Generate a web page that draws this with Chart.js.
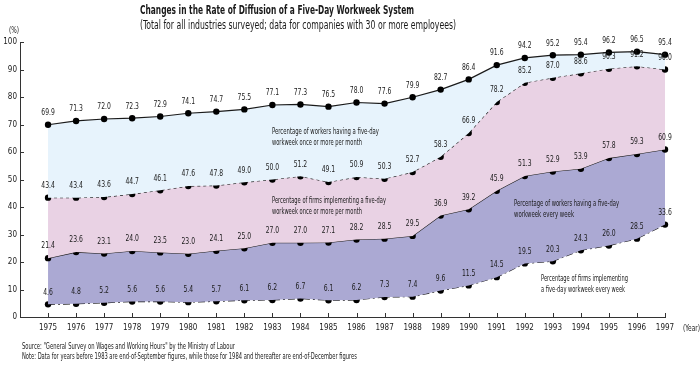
<!DOCTYPE html>
<html>
<head>
<meta charset="utf-8">
<script src="https://cdn.jsdelivr.net/npm/chart.js@4.4.1/dist/chart.umd.min.js"></script>
<style>
  body { margin: 0; background: #ffffff; }
  #wrap { width: 700px; height: 370px; position: relative; }
</style>
</head>
<body>
<div id="wrap"><canvas id="diffusionChart"></canvas></div>
<script>
// Data
const years = [1975, 1976, 1977, 1978, 1979, 1980, 1981, 1982, 1983, 1984, 1985, 1986,
               1987, 1988, 1989, 1990, 1991, 1992, 1993, 1994, 1995, 1996, 1997];

const workersMonthly = [69.9, 71.3, 72.0, 72.3, 72.9, 74.1, 74.7, 75.5, 77.1, 77.3, 76.5, 78.0,
                        77.6, 79.9, 82.7, 86.4, 91.6, 94.2, 95.2, 95.4, 96.2, 96.5, 95.4];
const firmsMonthly = [43.4, 43.4, 43.6, 44.7, 46.1, 47.6, 47.8, 49.0, 50.0, 51.2, 49.1, 50.9,
                      50.3, 52.7, 58.3, 66.9, 78.2, 85.2, 87.0, 88.6, 90.3, 91.2, 90.0];
const workersWeekly = [21.4, 23.6, 23.1, 24.0, 23.5, 23.0, 24.1, 25.0, 27.0, 27.0, 27.1, 28.2,
                       28.5, 29.5, 36.9, 39.2, 45.9, 51.3, 52.9, 53.9, 57.8, 59.3, 60.9];
const firmsWeekly = [4.6, 4.8, 5.2, 5.6, 5.6, 5.4, 5.7, 6.1, 6.2, 6.7, 6.1, 6.2,
                     7.3, 7.4, 9.6, 11.5, 14.5, 19.5, 20.3, 24.3, 26.0, 28.5, 33.6];

const yTicks = [0, 10, 20, 30, 40, 50, 60, 70, 80, 90, 100];

const seriesNotes = [
    ['Percentage of workers having a five-day', 'workweek once or more per month'],
    ['Percentage of firms implementing a five-day', 'workweek once or more per month'],
    ['Percentage of workers having a five-day', 'workweek every week'],
    ['Percentage of firms implementing', 'a five-day workweek every week']
];

const FONT = '"Liberation Sans Narrow", "DejaVu Sans Condensed", "Arial Narrow", sans-serif';
const INK = '#1a1a1a';

function toPoints(arr) {
    return arr.map((v, i) => ({ x: years[i], y: v }));
}

// draw text squeezed horizontally (the original uses a very condensed face)
function narrowText(ctx, text, x, y, squeeze) {
    const w = ctx.measureText(text).width;
    ctx.fillText(text, x, y, w * squeeze);
}

// value labels over every point
const valueLabels = {
    id: 'valueLabels',
    afterDatasetsDraw(chart) {
        const ctx = chart.ctx;
        ctx.save();
        ctx.font = '9px ' + FONT;
        ctx.fillStyle = INK;
        ctx.textAlign = 'center';
        ctx.textBaseline = 'middle';
        chart.data.datasets.forEach((ds, di) => {
            const meta = chart.getDatasetMeta(di);
            meta.data.forEach((pt, i) => {
                const txt = ds.data[i].y.toFixed(1);
                narrowText(ctx, txt, pt.x, pt.y - 12, 0.75);
            });
        });
        ctx.restore();
    }
};

// inward tick marks, titles, notes, source
const decorations = {
    id: 'decorations',
    afterDraw(chart) {
        const ctx = chart.ctx;
        const xs = chart.scales.x;
        const ys = chart.scales.y;
        const area = chart.chartArea;

        ctx.save();
        ctx.strokeStyle = '#333';
        ctx.lineWidth = 1;
        ctx.beginPath();
        yTicks.forEach(v => {
            const py = Math.round(ys.getPixelForValue(v)) + 0.5;
            ctx.moveTo(area.left, py);
            ctx.lineTo(area.left + 4, py);
        });
        years.forEach(yr => {
            const px = Math.round(xs.getPixelForValue(yr)) + 0.5;
            ctx.moveTo(px, area.bottom);
            ctx.lineTo(px, area.bottom - 4);
        });
        ctx.stroke();

        ctx.fillStyle = INK;
        ctx.textBaseline = 'middle';
        ctx.textAlign = 'left';

        ctx.font = 'bold 13px ' + FONT;
        ctx.fillText('Changes in the Rate of Diffusion of a Five-Day Workweek System', 140, 11, 274);
        ctx.font = '12px ' + FONT;
        ctx.fillText('(Total for all industries surveyed; data for companies with 30 or more employees)', 140, 26, 316);

        ctx.font = '8px ' + FONT;
        ctx.fillText('(%)', 9, 31, 10);
        ctx.fillText('(Year)', 683, 329, 17);

        ctx.font = '9px ' + FONT;
        const notePos = [[272, 132], [272, 201], [514, 204], [541, 279]];
        const noteW = [[107, 90], [114, 90], [105, 60], [87, 84]];
        seriesNotes.forEach((lines, i) => {
            lines.forEach((ln, j) => {
                ctx.fillText(ln, notePos[i][0], notePos[i][1] + j * 11, noteW[i][j]);
            });
        });

        ctx.font = '8.5px ' + FONT;
        ctx.fillText('Source: "General Survey on Wages and Working Hours" by the Ministry of Labour', 22, 347, 213);
        ctx.fillText('Note: Data for years before 1983 are end-of-September figures, while those for 1984 and thereafter are end-of-December figures', 22, 357, 335);
        ctx.restore();
    }
};

function lineSet(label, arr, dash, fill, bg) {
    return {
        label: label,
        data: toPoints(arr),
        borderColor: INK,
        borderWidth: 1.2,
        borderDash: dash,
        fill: fill,
        backgroundColor: bg,
        pointRadius: 3.2,
        pointBackgroundColor: '#000',
        pointBorderWidth: 0,
        tension: 0,
        clip: false
    };
}

const ctx = document.getElementById('diffusionChart').getContext('2d');
new Chart(ctx, {
    type: 'line',
    data: {
        datasets: [
            lineSet('workersMonthly', workersMonthly, [], '+1', '#e7f3fc'),
            lineSet('firmsMonthly', firmsMonthly, [3, 3], '+1', '#e9d2e4'),
            lineSet('workersWeekly', workersWeekly, [], '+1', '#aba9d3'),
            lineSet('firmsWeekly', firmsWeekly, [7, 3, 2, 3], false, 'transparent')
        ]
    },
    options: {
        responsive: true,
        maintainAspectRatio: false,
        animation: false,
        devicePixelRatio: 1,
        layout: { padding: { top: 42, right: 35, left: 0, bottom: 0 } },
        plugins: {
            legend: { display: false },
            tooltip: { enabled: false },
            title: { display: false }
        },
        scales: {
            x: {
                type: 'linear',
                min: 1974,
                max: 1997,
                grid: { display: false, drawTicks: false },
                border: { display: true, color: '#333', width: 1 },
                ticks: {
                    stepSize: 1,
                    autoSkip: false,
                    maxRotation: 0,
                    padding: 6,
                    color: INK,
                    font: { size: 8, family: FONT },
                    callback: v => (v === 1974 ? '' : String(v))
                },
                afterFit: s => { s.height = 53; }
            },
            y: {
                min: 0,
                max: 100,
                grid: { display: false, drawTicks: false },
                border: { display: true, color: '#333', width: 1 },
                ticks: {
                    stepSize: 10,
                    padding: 3,
                    color: INK,
                    font: { size: 8, family: FONT }
                },
                afterFit: s => { s.width = 20; }
            }
        }
    },
    plugins: [valueLabels, decorations]
});
</script>
</body>
</html>
